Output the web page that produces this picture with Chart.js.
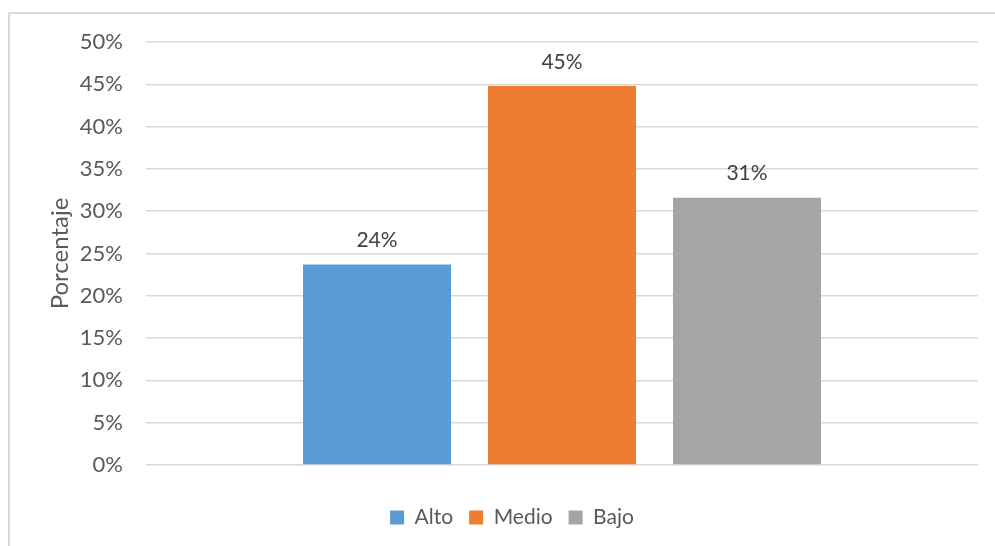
<!DOCTYPE html>
<html>
<head>
<meta charset="utf-8">
<script src="https://cdn.jsdelivr.net/npm/chart.js@4.4.1/dist/chart.umd.min.js"></script>
<style>
  html, body { margin:0; padding:0; background:#fff; overflow:hidden; }
  #frame { position:absolute; left:8px; top:12px; width:1000px; height:560px;
           border-left:2px solid #d9d9d9; border-top:2px solid #d9d9d9; }
  #wrap { position:absolute; left:16px; top:1px; width:970px; height:533px; }
</style>
</head>
<body>
<div id="frame"><div id="wrap"><canvas id="chart"></canvas></div></div>
<script>
var categories = [''];
var seriesNames = ['Alto', 'Medio', 'Bajo'];
var seriesValues = [23.7, 44.8, 31.6];
var seriesColors = ['#5b9bd5', '#ed7d31', '#a5a5a5'];
var valueLabels = ['24%', '45%', '31%'];
var yTicks = [0, 5, 10, 15, 20, 25, 30, 35, 40, 45, 50];

(function(){
    var FONT = 'Lato, "Open Sans", sans-serif';

    // data labels above each bar
    var barLabels = {
        id: 'barLabels',
        afterDatasetsDraw: function(chart){
            var ctx = chart.ctx;
            ctx.save();
            ctx.font = '21px ' + FONT;
            ctx.fillStyle = '#404040';
            ctx.textAlign = 'center';
            ctx.textBaseline = 'middle';
            chart.data.datasets.forEach(function(ds, i){
                var meta = chart.getDatasetMeta(i);
                meta.data.forEach(function(bar){
                    ctx.fillText(valueLabels[i], bar.x, bar.y - 24);
                });
            });
            ctx.restore();
        }
    };

    var datasets = seriesNames.map(function(name, i){
        return {
            label: name,
            data: [seriesValues[i]],
            backgroundColor: seriesColors[i],
            borderWidth: 0,
            categoryPercentage: 0.667,
            barPercentage: 0.8
        };
    });

    var ctx = document.getElementById('chart').getContext('2d');
    new Chart(ctx, {
        type: 'bar',
        data: { labels: categories, datasets: datasets },
        plugins: [barLabels],
        options: {
            responsive: true,
            maintainAspectRatio: false,
            animation: false,
            layout: { padding: { top: 27, right: 18, bottom: 10, left: 20 } },
            plugins: {
                tooltip: { enabled: false },
                legend: {
                    position: 'bottom',
                    labels: {
                        boxWidth: 14, boxHeight: 14,
                        color: '#595959',
                        font: { family: FONT, size: 21 },
                        padding: 16
                    }
                }
            },
            scales: {
                x: {
                    ticks: { display: false },
                    grid: { display: false },
                    border: { display: false },
                    afterFit: function(s){ s.height = 26; }
                },
                y: {
                    min: 0, max: 50,
                    afterBuildTicks: function(s){ s.ticks = yTicks.map(function(v){ return {value: v}; }); },
                    ticks: {
                        padding: 23,
                        color: '#595959',
                        font: { family: FONT, size: 22 },
                        callback: function(v){ return v + '%'; }
                    },
                    grid: { color: '#d9d9d9', lineWidth: 1.5, drawTicks: false },
                    border: { display: false },
                    title: {
                        display: true,
                        text: 'Porcentaje',
                        color: '#595959',
                        font: { family: FONT, size: 24 },
                        padding: { top: 0, bottom: 0 }
                    },
                    afterFit: function(s){
                        s.width = 100;
                        s.paddingTop = 0;
                        s.paddingBottom = 0;
                    }
                }
            }
        }
    });
})();
</script>
</body>
</html>
